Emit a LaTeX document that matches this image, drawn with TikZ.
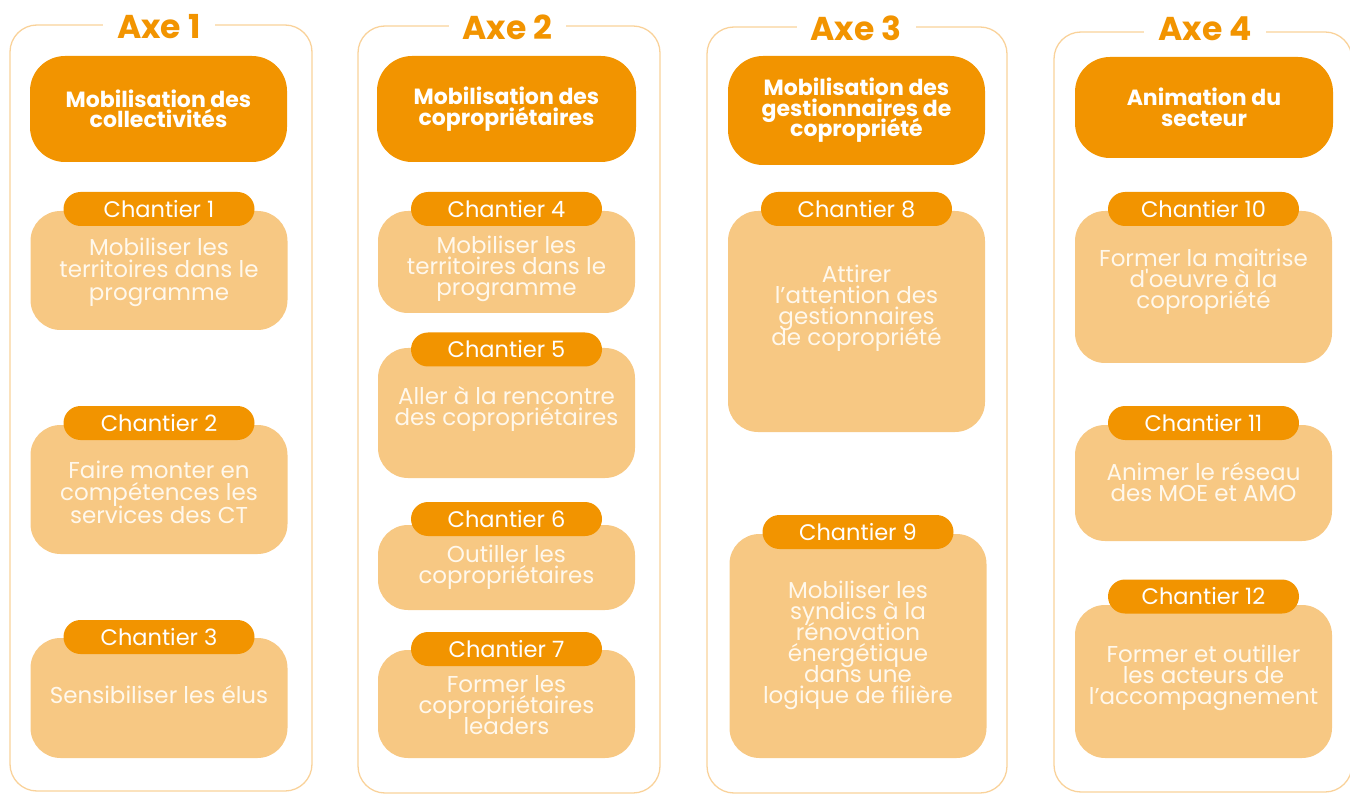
\documentclass[tikz,border=0pt]{standalone}
\usepackage{fontspec}
\newfontfamily\pop{Poppins}
\definecolor{hdr}{HTML}{F29400}
\definecolor{lite}{HTML}{F7C883}
\definecolor{frm}{HTML}{F9D29A}
\definecolor{txt}{HTML}{FFF8EC}
\newcommand\tightlines{\lineskiplimit=-100pt\lineskip=0pt\relax}
\tikzset{
  frame/.style={draw=frm, line width=1.3pt, rounded corners=27pt, inner sep=0pt},
  axetitle/.style={fill=white, text=hdr, inner xsep=14pt, inner ysep=2pt, font=\pop\bfseries\fontsize{33}{33}\selectfont},
  header/.style={fill=hdr, rounded corners=35pt, text=white, align=center, inner sep=0pt,
    font=\pop\bfseries\fontsize{22}{20.5}\selectfont\tightlines},
  cbox/.style={fill=lite, rounded corners=30pt, inner sep=0pt, minimum width=257pt},
  pill/.style={fill=hdr, rounded corners=17pt, text=white, inner sep=0pt,
    minimum width=191pt, minimum height=34pt, font=\pop\fontsize{22.5}{22.5}\selectfont},
  ctext/.style={text=txt, align=center, inner sep=0pt, font=\pop\fontsize{23}{21}\selectfont\tightlines},
  wide/.style={font=\pop\fontsize{23}{22.5}\selectfont\tightlines},
}
% #1 style, #2 name, #3 box cx, #4 pill cy, #5 box top, #6 box bottom, #7 text cy, #8 number, #9 text
\newcommand\chant[9][]{%
  \node[cbox, minimum height={#6pt-#5pt}] (#2b) at (#3,{(#5+#6)/2}) {};
  \node[pill] (#2p) at (#3,#4) {Chantier #8};
  \node[ctext,#1] (#2t) at (#3,#7) {#9};
}
\begin{document}
\begin{tikzpicture}[x=1pt,y=-1pt]
\useasboundingbox (0,0) rectangle (1350,794);
\clip (0,0) rectangle (1350,794);
% frames
\node[frame, minimum width=302pt, minimum height=766pt] (f1) at (161,408) {};
\node[frame, minimum width=302pt, minimum height=767pt] (f2) at (509,409.5) {};
\node[frame, minimum width=300pt, minimum height=766pt] (f3) at (857,410) {};
\node[frame, minimum width=298pt, minimum height=760pt] (f4) at (1203,412) {};
% titles
\node[axetitle] (a1) at (159,27) {Axe 1};
\node[axetitle] (a2) at (507.5,27) {Axe 2};
\node[axetitle] (a3) at (856,28) {Axe 3};
\node[axetitle] (a4) at (1205,29) {Axe 4};
% headers
\node[header, minimum width=257pt, minimum height=106pt] (h1) at (158.5,109) {Mobilisation des\\collectivités};
\node[header, minimum width=259pt, minimum height=106pt] (h2) at (506.5,109) {Mobilisation des\\copropriétaires};
\node[header, minimum width=257pt, minimum height=109pt] (h3) at (856.5,110.5) {Mobilisation des\\gestionnaires de\\copropriété};
\node[header, minimum width=258pt, minimum height=101pt] (h4) at (1204,107.5) {Animation du\\secteur};
% column 1
\chant[wide]{c1}{159}{209}{211}{330}{272}{1}{Mobiliser les\\territoires dans le\\programme}
\chant[wide]{c2}{159}{423}{425}{554}{492}{2}{Faire monter en\\compétences les\\services des CT}
\chant{c3}{159}{637}{638}{758}{695}{3}{Sensibiliser les élus}
% column 2
\chant{c4}{506.5}{209}{211}{313}{269}{4}{Mobiliser les\\territoires dans le\\programme}
\chant{c5}{506.5}{349.5}{348}{478}{408.5}{5}{Aller à la rencontre\\des copropriétaires}
\chant{c6}{506.5}{519}{525}{610}{567.5}{6}{Outiller les\\copropriétaires}
\chant{c7}{506.5}{649}{650}{758}{705}{7}{Former les\\copropriétaires\\leaders}
% column 3
\chant{c8}{856.5}{209}{211}{432}{308}{8}{Attirer\\l’attention des\\gestionnaires\\de copropriété}
\chant{c9}{858}{532}{534}{758}{645}{9}{Mobiliser les\\syndics à la\\rénovation\\énergétique\\dans une\\logique de filière}
% column 4
\chant{c10}{1203.5}{209}{211}{363}{282}{10}{Former la maitrise\\d'oeuvre à la\\copropriété}
\chant{c11}{1203.5}{423}{425}{541}{482}{11}{Animer le réseau\\des MOE et AMO}
\chant{c12}{1203.5}{596.5}{605}{758}{678}{12}{Former et outiller\\les acteurs de\\l’accompagnement}
\end{tikzpicture}
\end{document}
